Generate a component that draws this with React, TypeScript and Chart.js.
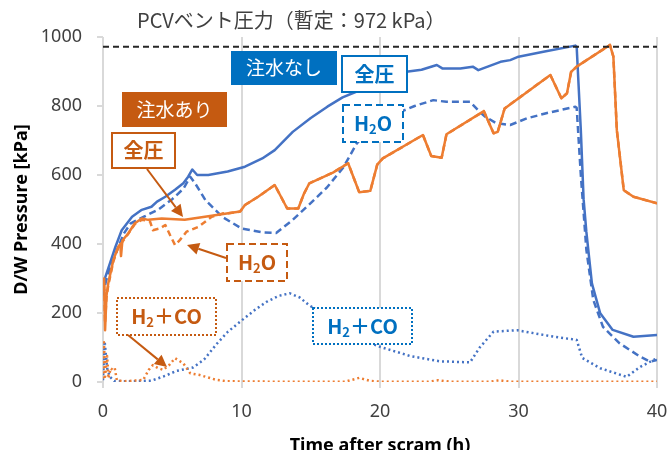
import React, { useEffect, useRef } from "react";
import { Chart, registerables } from "chart.js";

Chart.register(...registerables);

// ---- Data (time after scram [h], D/W pressure [kPa]) ----
const xTicks = [0, 10, 20, 30, 40];
const yTicks = [0, 200, 400, 600, 800, 1000];
const ventPressure = 972;

// 注水なし (no injection) – total pressure
const tNoInjTotal = [0, 0.1, 0.5, 0.9, 1.35, 2.1, 2.8, 3.5, 3.9, 4.5, 5.2, 5.8, 6.15, 6.45, 6.8, 7.6, 9.0, 10.25, 11.5, 12.4, 13.7, 15.0, 16.2, 17.3, 18.5, 20.0, 21.9, 23.0, 24.1, 24.5, 25.8, 26.7, 27.1, 28.7, 29.4, 30.0, 31.8, 34.1, 34.2, 34.5, 34.7, 34.9, 35.3, 35.9, 36.8, 38.3, 40];
const pNoInjTotal = [280, 296, 344, 392, 440, 479, 499, 508, 523, 537, 557, 576, 595, 616, 600, 600, 610, 624, 648, 672, 725, 765, 798, 825, 845, 875, 899, 905, 919, 909, 909, 914, 904, 928, 933, 943, 957, 975, 972, 730, 530, 435, 286, 199, 151, 131, 136];

// 注水なし – H2O
const tNoInjH2O = [0, 0.2, 0.5, 1.0, 1.5, 2.0, 3.0, 4.0, 5.0, 5.8, 6.3, 6.65, 7.4, 8.6, 10.0, 11.5, 12.5, 13.7, 14.9, 16.15, 17.35, 18.3, 19.5, 20.5, 21.6, 22.5, 23.85, 24.8, 26.5, 27.2, 27.6, 28.4, 29.4, 30.6, 32.0, 34.1, 34.2, 34.5, 34.9, 35.4, 36.1, 37.3, 38.8, 39.5, 40];
const pNoInjH2O = [250, 290, 330, 380, 430, 460, 480, 500, 530, 560, 595, 576, 527, 479, 445, 434, 432, 470, 515, 563, 622, 690, 745, 770, 785, 800, 817, 812, 812, 783, 769, 750, 745, 764, 779, 798, 795, 600, 383, 238, 160, 112, 73, 59, 64];

// 注水なし – H2 + CO
const tNoInjH2CO = [0, 0.12, 0.3, 0.5, 0.8, 2.0, 3.5, 4.5, 5.3, 6.5, 7.3, 8.2, 9.0, 10.0, 11.0, 11.8, 12.7, 13.5, 14.2, 14.9, 15.4, 16.5, 18.0, 20.0, 22.2, 24.3, 26.5, 27.2, 28.2, 29.9, 32.3, 34.2, 34.6, 35.9, 37.8, 38.8, 40];
const pNoInjH2CO = [5, 117, 40, 15, 3, 2, 4, 18, 32, 42, 65, 110, 145, 178, 210, 232, 250, 257, 245, 222, 210, 175, 135, 102, 75, 60, 57, 100, 146, 150, 133, 122, 70, 40, 15, 44, 69];

// 注水あり (with injection) – total pressure
const tInjTotal = [0, 0.08, 0.15, 0.25, 0.38, 0.75, 1.1, 1.25, 1.3, 1.4, 1.83, 2.3, 2.8, 3.27, 4.24, 5.9, 7.36, 9.05, 9.9, 10.25, 11.2, 12.4, 13.3, 14.1, 14.5, 14.9, 16.6, 17.7, 18.5, 19.3, 19.8, 20.2, 23.1, 23.7, 24.45, 24.8, 27.5, 28.2, 28.5, 29.0, 32.3, 33.1, 33.5, 33.8, 34.2, 36.6, 36.85, 37.1, 37.6, 38.3, 40];
const pInjTotal = [285, 300, 150, 250, 286, 354, 392, 400, 365, 410, 431, 460, 474, 470, 474, 470, 479, 489, 494, 513, 537, 571, 503, 503, 545, 576, 607, 634, 550, 554, 630, 648, 716, 655, 650, 718, 785, 721, 725, 793, 890, 822, 837, 899, 914, 977, 943, 730, 556, 537, 518];

// 注水あり – H2O
const tInjH2O = [0, 0.08, 0.15, 0.25, 0.38, 0.75, 1.1, 1.47, 1.83, 2.3, 2.8, 3.2, 3.4, 3.6, 4.1, 4.5, 4.84, 5.2, 5.56, 6.04, 6.9, 7.85, 8.7, 9.05, 9.9, 10.25, 11.2, 12.4, 13.3, 14.1, 14.5, 14.9, 16.6, 17.7, 18.5, 19.3, 19.8, 20.2, 23.1, 23.7, 24.45, 24.8, 27.5, 28.2, 28.5, 29.0, 32.3, 33.1, 33.5, 33.8, 34.2, 36.6, 36.85, 37.1, 37.6, 38.3, 40];
const pInjH2O = [270, 290, 170, 245, 280, 350, 390, 410, 430, 458, 470, 468, 465, 440, 445, 455, 426, 397, 412, 436, 450, 479, 489, 489, 494, 513, 537, 571, 503, 503, 545, 576, 607, 634, 550, 554, 630, 648, 716, 655, 650, 718, 785, 721, 725, 793, 890, 822, 837, 899, 914, 977, 943, 730, 556, 537, 518];

// 注水あり – H2 + CO
const tInjH2CO = [0, 0.07, 0.15, 0.3, 0.4, 0.55, 0.7, 0.85, 1.0, 1.5, 2.9, 3.3, 3.6, 4.0, 4.35, 4.8, 5.2, 5.8, 6.3, 7.0, 8.2, 9.0, 12.0, 17.5, 18.5, 19.3, 20.0, 23.5, 24.2, 25.0, 28.0, 28.6, 29.3, 40];
const pInjH2CO = [10, 115, 15, 75, 10, 40, 35, 40, 5, 2, 6, 35, 49, 40, 35, 50, 69, 54, 25, 20, 6, 2, 1, 1, 12, 3, 1, 1, 5, 1, 1, 5, 1, 1];

const titleText = "PCVベント圧力（暫定：972 kPa）";
const xTitle = "Time after scram (h)";
const yTitle = "D/W Pressure [kPa]";

// ---- styles ----
const BLUE = "#4472C4";
const ORANGE = "#ED7D31";
const BLUE_DARK = "#0070C0";
const ORANGE_DARK = "#C55A11";
const GRID = "#D9D9D9";
const TEXT = "#404040";
const CJK = '"Noto Sans CJK JP", "Noto Sans", sans-serif';
const SANS = '"Noto Sans", "Noto Sans CJK JP", sans-serif';

const W = 700;
const H = 470;

const zip = (t: number[], p: number[]) => t.map((x, i) => ({ x, y: p[i] }));

type Part = { text: string; sub?: boolean };

function drawParts(ctx: CanvasRenderingContext2D, parts: Part[], cx: number, cy: number, size: number, bold: boolean, color: string) {
  const mainFont = `${bold ? "bold " : ""}${size}px ${CJK}`;
  const subFont = `${bold ? "bold " : ""}${Math.round(size * 0.65)}px ${CJK}`;
  let total = 0;
  const widths = parts.map((p) => {
    ctx.font = p.sub ? subFont : mainFont;
    const w = ctx.measureText(p.text).width;
    total += w;
    return w;
  });
  let x = cx - total / 2;
  ctx.fillStyle = color;
  ctx.textAlign = "left";
  ctx.textBaseline = "middle";
  parts.forEach((p, i) => {
    ctx.font = p.sub ? subFont : mainFont;
    ctx.fillText(p.text, x, p.sub ? cy + size * 0.3 : cy);
    x += widths[i];
  });
}

function box(ctx: CanvasRenderingContext2D, x1: number, y1: number, x2: number, y2: number, opts: { fill: string; stroke?: string; dash?: number[] }) {
  ctx.save();
  ctx.fillStyle = opts.fill;
  ctx.fillRect(x1, y1, x2 - x1, y2 - y1);
  if (opts.stroke) {
    ctx.strokeStyle = opts.stroke;
    ctx.lineWidth = 2;
    ctx.setLineDash(opts.dash || []);
    ctx.strokeRect(x1, y1, x2 - x1, y2 - y1);
  }
  ctx.restore();
}

function arrow(ctx: CanvasRenderingContext2D, x1: number, y1: number, x2: number, y2: number, color: string) {
  const ang = Math.atan2(y2 - y1, x2 - x1);
  const len = 12;
  const hw = 6;
  const bx = x2 - len * Math.cos(ang);
  const by = y2 - len * Math.sin(ang);
  ctx.save();
  ctx.strokeStyle = color;
  ctx.fillStyle = color;
  ctx.lineWidth = 2;
  ctx.setLineDash([]);
  ctx.beginPath();
  ctx.moveTo(x1, y1);
  ctx.lineTo(bx, by);
  ctx.stroke();
  ctx.beginPath();
  ctx.moveTo(x2, y2);
  ctx.lineTo(bx + hw * Math.sin(ang), by - hw * Math.cos(ang));
  ctx.lineTo(bx - hw * Math.sin(ang), by + hw * Math.cos(ang));
  ctx.closePath();
  ctx.fill();
  ctx.restore();
}

const annotations = {
  id: "annotations",
  afterDraw(chart: any) {
    const ctx: CanvasRenderingContext2D = chart.ctx;
    ctx.save();
    // title
    ctx.font = `20px ${CJK}`;
    ctx.fillStyle = TEXT;
    ctx.textAlign = "left";
    ctx.textBaseline = "middle";
    ctx.fillText(titleText, 137, 20);

    // 注水なし
    box(ctx, 231, 51, 337, 85, { fill: BLUE_DARK });
    drawParts(ctx, [{ text: "注水なし" }], 284, 68, 19, false, "#FFFFFF");
    // 全圧 (blue)
    box(ctx, 342, 56, 407, 92, { fill: "#FFFFFF", stroke: BLUE_DARK });
    drawParts(ctx, [{ text: "全圧" }], 374.5, 74, 20, true, BLUE_DARK);
    // H2O (blue)
    box(ctx, 343, 105, 403, 142, { fill: "#FFFFFF", stroke: BLUE_DARK, dash: [7, 4] });
    drawParts(ctx, [{ text: "H" }, { text: "2", sub: true }, { text: "O" }], 373, 123, 20, true, BLUE_DARK);
    // H2+CO (blue)
    box(ctx, 313, 308, 412, 344, { fill: "#FFFFFF", stroke: BLUE_DARK, dash: [2, 2] });
    drawParts(ctx, [{ text: "H" }, { text: "2", sub: true }, { text: "＋" }, { text: "CO" }], 362.5, 326, 20, true, BLUE_DARK);

    // 注水あり
    box(ctx, 122, 92, 227, 127, { fill: ORANGE_DARK });
    drawParts(ctx, [{ text: "注水あり" }], 174.5, 109.5, 19, false, "#FFFFFF");
    // 全圧 (orange)
    box(ctx, 112, 133, 175, 168, { fill: "#FFFFFF", stroke: ORANGE_DARK });
    drawParts(ctx, [{ text: "全圧" }], 143.5, 150.5, 20, true, ORANGE_DARK);
    arrow(ctx, 147, 169, 183, 217, ORANGE_DARK);
    // H2O (orange)
    box(ctx, 227, 244, 287, 281, { fill: "#FFFFFF", stroke: ORANGE_DARK, dash: [7, 4] });
    drawParts(ctx, [{ text: "H" }, { text: "2", sub: true }, { text: "O" }], 257, 262, 20, true, ORANGE_DARK);
    arrow(ctx, 226, 258, 187, 245, ORANGE_DARK);
    // H2+CO (orange)
    box(ctx, 117, 298, 216, 335, { fill: "#FFFFFF", stroke: ORANGE_DARK, dash: [2, 2] });
    drawParts(ctx, [{ text: "H" }, { text: "2", sub: true }, { text: "＋" }, { text: "CO" }], 166.5, 316.5, 20, true, ORANGE_DARK);
    arrow(ctx, 128, 335, 167, 367, ORANGE_DARK);
    ctx.restore();
  },
};

export default function App() {
  const ref = useRef<HTMLCanvasElement | null>(null);

  useEffect(() => {
    if (!ref.current) return;
    const common = { pointRadius: 0, tension: 0, fill: false, borderJoinStyle: "round" as const };
    const chart = new Chart(ref.current, {
      type: "line",
      data: {
        datasets: [
          { ...common, label: "vent", data: [{ x: 0, y: ventPressure }, { x: 40, y: ventPressure }], borderColor: "#262626", borderWidth: 2, borderDash: [6, 4] },
          { ...common, label: "注水あり 全圧", data: zip(tInjTotal, pInjTotal), borderColor: ORANGE, borderWidth: 2.5 },
          { ...common, label: "注水なし 全圧", data: zip(tNoInjTotal, pNoInjTotal), borderColor: BLUE, borderWidth: 2.5 },
          { ...common, label: "注水あり H2O", data: zip(tInjH2O, pInjH2O), borderColor: ORANGE, borderWidth: 2.5, borderDash: [6, 4] },
          { ...common, label: "注水なし H2O", data: zip(tNoInjH2O, pNoInjH2O), borderColor: BLUE, borderWidth: 2.5, borderDash: [7, 4] },
          { ...common, label: "注水あり H2+CO", data: zip(tInjH2CO, pInjH2CO), borderColor: ORANGE, borderWidth: 2.5, borderDash: [2, 3] },
          { ...common, label: "注水なし H2+CO", data: zip(tNoInjH2CO, pNoInjH2CO), borderColor: BLUE, borderWidth: 2.5, borderDash: [2, 3] },
        ],
      },
      options: {
        responsive: false,
        animation: false,
        devicePixelRatio: 1,
        parsing: false as any,
        layout: { padding: { left: 0, top: 37, right: W - 657, bottom: 0 } },
        plugins: { legend: { display: false }, tooltip: { enabled: false }, title: { display: false } },
        scales: {
          x: {
            type: "linear",
            min: 0,
            max: 40,
            afterFit: (s: any) => { s.height = H - 382; },
            afterBuildTicks: (s: any) => { s.ticks = xTicks.map((v) => ({ value: v })); },
            grid: { color: GRID, lineWidth: 2, tickLength: 6, drawTicks: true, tickColor: GRID },
            border: { display: false },
            ticks: { color: TEXT, font: { family: SANS, size: 18 }, padding: 13, maxRotation: 0, callback: (v: any) => String(v) },
            title: { display: true, text: xTitle, color: "#000000", font: { family: SANS, size: 18, weight: "bold" }, padding: { top: 0, bottom: 13 } },
          },
          y: {
            type: "linear",
            min: 0,
            max: 1000,
            afterFit: (s: any) => { s.width = 103; },
            afterBuildTicks: (s: any) => { s.ticks = yTicks.map((v) => ({ value: v })); },
            grid: { drawOnChartArea: false, drawTicks: true, tickLength: 6, color: GRID, tickColor: GRID, lineWidth: 2 },
            border: { display: false },
            ticks: { color: TEXT, font: { family: SANS, size: 18 }, padding: 15, callback: (v: any) => String(v) },
            title: { display: true, text: yTitle, color: "#000000", font: { family: SANS, size: 18, weight: "bold" }, padding: { top: 11, bottom: 0 } },
          },
        },
      },
      plugins: [annotations],
    } as any);
    return () => chart.destroy();
  }, []);

  return (
    <div style={{ position: "absolute", left: 0, top: 0, width: 668, height: 450, overflow: "hidden", background: "#FFFFFF" }}>
      <canvas ref={ref} width={W} height={H} style={{ width: W, height: H, display: "block" }} />
    </div>
  );
}
